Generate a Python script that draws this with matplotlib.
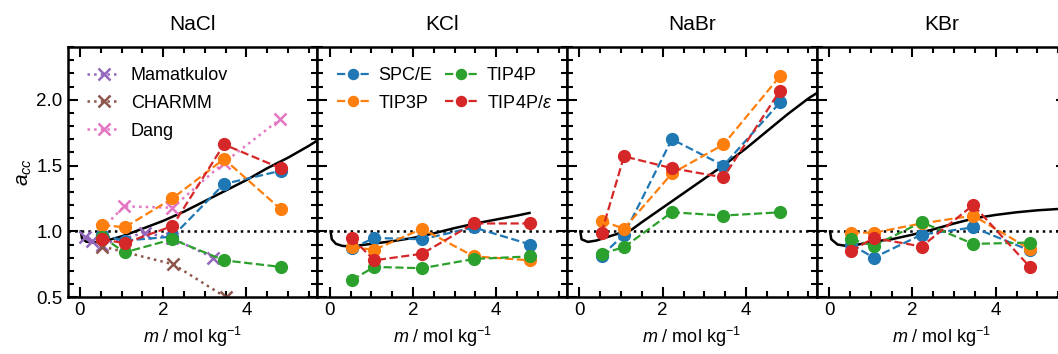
import numpy as np
import matplotlib
matplotlib.use("Agg")
import matplotlib.pyplot as plt
from matplotlib.ticker import MultipleLocator

plt.rcParams['font.family'] = ['Liberation Sans', 'DejaVu Sans']
plt.rcParams['mathtext.fontset'] = 'custom'
plt.rcParams['mathtext.it'] = 'Liberation Sans:italic'
plt.rcParams['mathtext.rm'] = 'Liberation Sans'

salts = ["NaCl", "KCl", "NaBr", "KBr"]
m_sim = [0.53, 1.07, 2.22, 3.46, 4.82]

# simulation results per water model (one list per salt, same order as salts)
acc_spce = [[0.97, 0.93, 0.96, 1.36, 1.46],
            [0.87, 0.95, 0.94, 1.03, 0.90],
            [0.815, 0.975, 1.70, 1.50, 1.98],
            [0.90, 0.80, 0.975, 1.03, 0.855]]
acc_tip3p = [[1.05, 1.03, 1.25, 1.55, 1.17],
             [0.88, 0.86, 1.02, 0.81, 0.78],
             [1.08, 1.02, 1.44, 1.66, 2.18],
             [0.99, 0.99, 1.06, 1.12, 0.865]]
acc_tip4p = [[0.96, 0.84, 0.94, 0.78, 0.73],
             [0.63, 0.73, 0.72, 0.79, 0.81],
             [0.83, 0.88, 1.145, 1.12, 1.145],
             [0.94, 0.89, 1.07, 0.905, 0.915]]
acc_tip4pe = [[0.94, 0.91, 1.04, 1.66, 1.48],
              [0.95, 0.78, 0.83, 1.06, 1.06],
              [0.99, 1.57, 1.48, 1.41, 2.07],
              [0.85, 0.95, 0.885, 1.20, 0.73]]

# other NaCl force fields
m_mamatkulov = [0.13, 0.28, 0.54, 1.55, 2.2, 3.2]
acc_mamatkulov = [0.96, 0.93, 0.90, 0.99, 0.95, 0.80]
m_charmm = [0.54, 2.24, 3.5]
acc_charmm = [0.885, 0.75, 0.50]
m_dang = [0.53, 1.06, 2.22, 3.45, 4.80]
acc_dang = [1.02, 1.19, 1.18, 1.52, 1.85]

m_nacl_exp = [0.02, 0.05, 0.15, 0.3, 0.5, 0.75, 1.0, 1.5, 2.0, 2.5, 3.0, 3.5, 4.0, 4.5, 5.0, 5.5, 5.7]
acc_nacl_exp = [1.0, 0.945, 0.922, 0.915, 0.92, 0.94, 0.962, 1.02, 1.08, 1.15, 1.23, 1.31, 1.39, 1.48, 1.56, 1.65, 1.69]
m_kcl_exp = [0.02, 0.05, 0.15, 0.3, 0.5, 1.0, 1.5, 2.0, 2.5, 3.0, 3.5, 4.0, 4.5, 4.8]
acc_kcl_exp = [1.0, 0.94, 0.905, 0.89, 0.885, 0.905, 0.925, 0.95, 0.985, 1.025, 1.06, 1.09, 1.12, 1.14]
m_nabr_exp = [0.02, 0.05, 0.2, 0.4, 0.6, 1.0, 1.24, 1.5, 2.0, 2.5, 3.0, 3.5, 4.0, 4.5, 5.0, 5.5, 5.7]
acc_nabr_exp = [1.0, 0.94, 0.92, 0.93, 0.95, 0.99, 1.01, 1.07, 1.18, 1.29, 1.40, 1.51, 1.63, 1.76, 1.89, 2.01, 2.05]
m_kbr_exp = [0.02, 0.05, 0.2, 0.4, 0.7, 1.0, 1.5, 2.0, 2.5, 3.0, 3.5, 4.0, 4.5, 5.0, 5.5, 5.7]
acc_kbr_exp = [1.0, 0.94, 0.9, 0.89, 0.9, 0.92, 0.94, 0.975, 1.015, 1.06, 1.10, 1.125, 1.145, 1.16, 1.17, 1.175]

exp_m = [m_nacl_exp, m_kcl_exp, m_nabr_exp, m_kbr_exp]
exp_acc = [acc_nacl_exp, acc_kcl_exp, acc_nabr_exp, acc_kbr_exp]

models = [("SPC/E", acc_spce, "tab:blue"),
          ("TIP3P", acc_tip3p, "tab:orange"),
          ("TIP4P", acc_tip4p, "tab:green"),
          (r"TIP4P/$\varepsilon$", acc_tip4pe, "tab:red")]

fig, axs = plt.subplots(1, 4, sharey=True, figsize=(10.58, 3.54), dpi=100)
fig.subplots_adjust(left=0.0638, right=1.008, bottom=0.1605, top=0.867, wspace=0)

for i, ax in enumerate(axs):
    ax.axhline(1.0, color='k', ls=':', lw=1.8, zorder=1)
    ax.plot(exp_m[i], exp_acc[i], color='k', lw=1.8, zorder=2)

    if i == 0:
        ax.plot(m_mamatkulov, acc_mamatkulov, ':', marker='x', color='tab:purple',
                ms=8, mew=1.8, lw=1.8, label='Mamatkulov')
        ax.plot(m_charmm, acc_charmm, ':', marker='x', color='tab:brown',
                ms=8, mew=1.8, lw=1.8, label='CHARMM')
        ax.plot(m_dang, acc_dang, ':', marker='x', color='tab:pink',
                ms=8, mew=1.8, lw=1.8, label='Dang')

    handles = []
    for name, acc, col in models:
        h, = ax.plot(m_sim, acc[i], '--o', color=col, ms=8.5, lw=1.6,
                     label=name, zorder=3)
        handles.append(h)

    if i == 0:
        hs, ls = ax.get_legend_handles_labels()
        ax.legend(hs[:3], ls[:3], loc='upper left', frameon=False,
                  fontsize=13, handlelength=1.8, borderaxespad=0.7,
                  labelspacing=0.6, handletextpad=0.6)
    if i == 1:
        ax.legend(handles=handles, ncol=2, loc='upper left', frameon=False,
                  fontsize=13, handlelength=1.8, columnspacing=0.7,
                  markerscale=0.85, labelspacing=0.6, borderaxespad=0.7,
                  handletextpad=0.5)

    ax.set_title(salts[i], fontsize=15, pad=12)
    ax.set_xlim(-0.3, 5.7)
    ax.set_ylim(0.5, 2.4)
    ax.xaxis.set_major_locator(MultipleLocator(2))
    ax.xaxis.set_minor_locator(MultipleLocator(0.5))
    ax.yaxis.set_major_locator(MultipleLocator(0.5))
    ax.yaxis.set_minor_locator(MultipleLocator(0.1))
    ax.tick_params(which='both', direction='in', top=True, right=True,
                   labelsize=13.5, width=1.5)
    ax.tick_params(which='major', length=7)
    ax.tick_params(which='minor', length=4)
    for sp in ax.spines.values():
        sp.set_linewidth(1.8)
    ax.set_xlabel(r'$m$ / mol kg$^{-1}$', fontsize=13)
    if i > 0:
        ax.tick_params(labelleft=False)

axs[0].set_ylabel(r'$a_{cc}$', fontsize=15, labelpad=2)

fig.savefig("out.png", dpi=100)
